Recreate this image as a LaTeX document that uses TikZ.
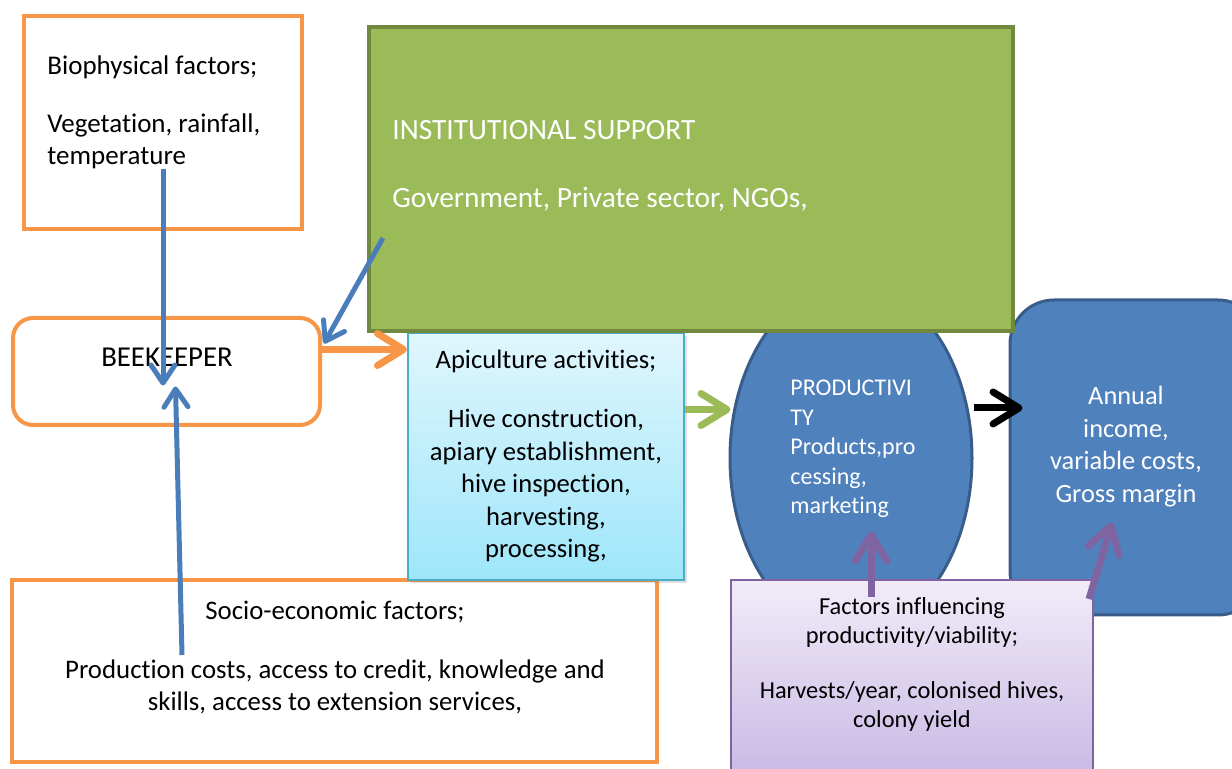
\documentclass[tikz,border=0pt]{standalone}
\usepackage{fontspec}
\setmainfont{Carlito}[RawFeature={-liga;-clig;-calt;-dlig}]
\usetikzlibrary{arrows.meta,shapes.geometric,shadows}

\definecolor{boxorange}{HTML}{F79646}
\definecolor{instgreen}{HTML}{9BBB59}
\definecolor{instborder}{HTML}{71893F}
\definecolor{linkblue}{HTML}{4A7EBB}
\definecolor{prodblue}{HTML}{4F81BD}
\definecolor{prodborder}{HTML}{385D8A}
\definecolor{apitop}{RGB}{224,246,253}
\definecolor{apibottom}{RGB}{158,230,250}
\definecolor{apiborder}{HTML}{4BACC6}
\definecolor{factop}{RGB}{241,236,248}
\definecolor{facbottom}{RGB}{199,182,228}
\definecolor{facborder}{HTML}{8064A2}

\begin{document}
\begin{tikzpicture}[x=0.5pt,y=-0.5pt,
  factor box/.style={rectangle,draw=boxorange,line width=2pt,fill=white,inner sep=0pt},
  blue node/.style={fill=prodblue,draw=prodborder,line width=1.5pt,inner sep=0pt},
  body text/.style={inner sep=0pt,font=\fontsize{13.4}{16}\selectfont},
  thin arrow/.style={draw=linkblue,line width=2.5pt,-{Straight Barb[length=9pt,width=12pt,round]}},
  thick arrow/.style={line width=3.5pt,-{Straight Barb[length=13pt,width=16pt,round]}}]

  \useasboundingbox (0,0) rectangle (1232,769);

  % outer factor boxes and the beekeeper
  \node[factor box,minimum width=139pt,minimum height=106.5pt] (bio) at (163,122.5) {};
  \node[factor box,minimum width=322.5pt,minimum height=91pt] (socio) at (334.5,671) {};
  \node[factor box,rounded corners=10pt,minimum width=153.5pt,minimum height=53.5pt] (bee) at (166.5,371.5) {};

  % outcome shapes
  \node[blue node,ellipse,minimum width=121pt,minimum height=175pt] (prod) at (851,458) {};
  \node[blue node,rectangle,rounded corners=22pt,minimum width=126pt,minimum height=157.5pt] (inc) at (1136,457.5) {};

  \node[rectangle,draw=apiborder,line width=1pt,top color=apitop,bottom color=apibottom,
    drop shadow={opacity=0.25,shadow xshift=1.5pt,shadow yshift=-1.5pt},
    minimum width=138pt,minimum height=123.5pt,inner sep=0pt] (api) at (546,456.5) {};
  \node[rectangle,fill=instgreen,draw=instborder,line width=2pt,
    minimum width=322pt,minimum height=152pt,inner sep=0pt] (inst) at (691,179) {};
  \node[rectangle,draw=facborder,line width=1pt,top color=factop,bottom color=facbottom,
    minimum width=181pt,minimum height=105pt,inner sep=0pt] (fac) at (912,685) {};

  % texts
  \node[body text,anchor=north west,align=left,font=\fontsize{13.5}{15.75}\selectfont] (bioTxt) at (47,55)
    {Biophysical factors;\\[13.5pt]Vegetation, rainfall,\\temperature};
  \node[body text,anchor=north west,align=left,text=white,font=\fontsize{14.7}{17}\selectfont] (instTxt) at (392,120)
    {INSTITUTIONAL SUPPORT\\[17pt]Government, Private sector, NGOs,};
  \node[body text,font=\fontsize{14.4}{17}\selectfont] (beeTxt) at (167,357) {BEEKEEPER};
  \node[body text,anchor=north,align=center,font=\fontsize{13.3}{16.25}\selectfont] (apiTxt) at (546,350)
    {Apiculture activities;\\[13.25pt]Hive construction,\\apiary establishment,\\hive inspection,\\harvesting,\\processing,};
  \node[body text,anchor=north west,align=left,text=white,font=\fontsize{12}{14.75}\selectfont] (prodTxt) at (790,380)
    {PRODUCTIVI\\TY\\Products,pro\\cessing,\\marketing};
  \node[body text,anchor=north,align=center,text=white,font=\fontsize{13.2}{16.25}\selectfont] (incTxt) at (1126,386)
    {Annual\\income,\\variable costs,\\Gross margin};
  \node[body text,anchor=north,align=center,font=\fontsize{12.2}{14.5}\selectfont] (facTxt) at (912,597)
    {Factors influencing\\productivity/viability;\\[13pt]Harvests/year, colonised hives,\\colony yield};
  \node[body text,anchor=north,align=center] (socioTxt) at (335,601)
    {Socio-economic factors;\\[13.5pt]Production costs, access to credit, knowledge and\\skills, access to extension services,};

  % connectors
  \coordinate (beeOut) at ([yshift=11pt]bee.east);
  \coordinate (apiOut) at ([yshift=23.5pt]api.east);
  \coordinate (prodOut) at ([yshift=25pt]prod.east);

  \draw[thin arrow] (bio.center |- bioTxt.south) -- ([yshift=-7pt]bee.center -| bio.center);
  \draw[thin arrow] ([xshift=86pt,yshift=-38.5pt]socio.north west) -- ([xshift=4.5pt,yshift=-7.5pt]bee.center);
  \draw[thin arrow] ([xshift=8pt,yshift=-106.5pt]inst.north west) -- ([xshift=1pt,yshift=14pt]bee.east);
  \draw[thick arrow,boxorange] (beeOut) -- (beeOut -| api.west);
  \draw[thick arrow,instgreen] (apiOut) -- ([xshift=1pt]apiOut -| prod.west);
  \draw[thick arrow,black] (prodOut) -- ([xshift=7pt]prodOut -| inc.west);
  \draw[thick arrow,facborder] ([xshift=-20.5pt,yshift=-9pt]fac.north) -- ([xshift=10pt,yshift=51.5pt]prod.south);
  \draw[thick arrow,facborder] ([xshift=-2.5pt,yshift=-10pt]fac.north east) -- ([xshift=-12pt,yshift=-32.5pt]inc.center);

\end{tikzpicture}
\end{document}
